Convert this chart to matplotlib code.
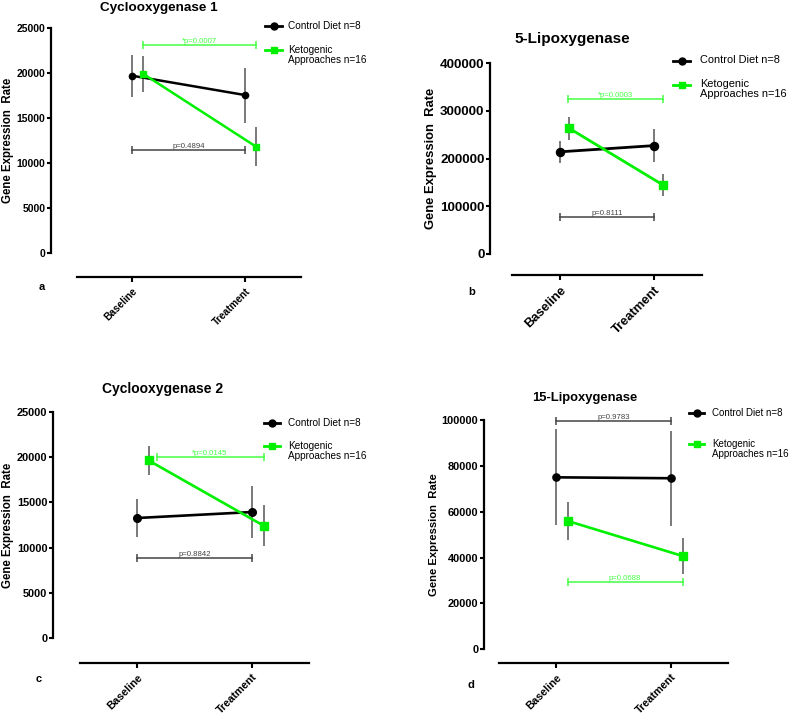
import numpy as np
import matplotlib
matplotlib.use('Agg')
import matplotlib.pyplot as plt
from matplotlib.lines import Line2D

plt.rcParams['font.family'] = ['Liberation Sans', 'DejaVu Sans']

W, H = 789, 719

categories = ['Baseline', 'Treatment']
titles = ['Cyclooxygenase 1', '5-Lipoxygenase', 'Cyclooxygenase 2', '15-Lipoxygenase']
panel_letters = ['a', 'b', 'c', 'd']
control_label = 'Control Diet n=8'
keto_label = 'Ketogenic\nApproaches n=16'

# means and error (symmetric) for each panel
control_mean = [[19700, 17550], [214000, 227000], [13270, 13930], [75000, 74600]]
control_err = [[2350, 3050], [23000, 35000], [2060, 2850], [21000, 20700]]
keto_mean = [[19900, 11800], [263000, 144000], [19630, 12430], [56000, 40700]]
keto_err = [[2000, 2150], [24000, 22500], [1580, 2300], [8450, 7800]]

# p-value brackets: (text, y, x start, x end)
control_p = [('p=0.4894', 11400, 0.0, 1.0), ('p=0.8111', 78000, 0.0, 1.0),
             ('p=0.8842', 8860, 0.0, 1.0), ('p=0.9783', 99700, 0.0, 1.0)]
keto_p = [('*p=0.0007', 23080, 0.1, 1.1), ('*p=0.0003', 324000, 0.09, 1.1),
          ('*p=0.0145', 20000, 0.17, 1.1), ('p=0.0688', 29500, 0.1, 1.1)]

y_max = [25000, 400000, 25000, 100000]
y_step = [5000, 100000, 5000, 20000]

# layout in pixels: y-axis x, x-line left, x-line right, baseline x, treatment x,
# top tick y, zero y, x-line y
layout = [(51, 77, 301, 132, 245, 28, 253, 277),
          (490, 512, 702, 560, 654, 63, 254, 275),
          (53, 80, 309, 137, 252, 411.7, 638.3, 663),
          (484, 499, 728, 556, 671, 420, 649.3, 663)]
title_pos = [(159, 8, 9.7), (572, 39, 11), (162, 389, 10), (585, 398, 9.4)]
letter_pos = [(42, 287), (472, 292), (39, 679), (471, 685)]
# key: line start x, first row y, row step, line length, text offset, font size
key_pos = [(265, 26, 24, 17, 23, 7.2), (673, 61, 24, 17, 27, 7.9),
           (264, 423, 23, 16, 24, 7.2), (689, 413, 31, 15, 23, 7.0)]
tick_fs = [7.5, 9.7, 7.9, 7.9]
lab_fs = [8.3, 9.4, 8.3, 8.1]
xt_fs = [7.3, 9.3, 7.8, 7.8]
ms = [4.5, 5.8, 5.5, 5.2]
lw = [1.8, 2.0, 1.9, 1.9]

GREEN = '#00f000'
PGREEN = '#44ff44'
ERRC = '#555555'
offset = 0.1

fig = plt.figure(figsize=(W / 100, H / 100), dpi=100)


def fx(px):
    return px / W


def fy(py):
    return 1 - py / H


for i in range(4):
    yx, xl, xr, bx, tx, ytop, y0, xly = layout[i]
    unit = tx - bx
    ax = fig.add_axes([fx(yx), fy(xly), (xr - yx) / W, (xly - ytop) / H])
    per_px = y_max[i] / (y0 - ytop)
    ax.set_xlim((yx - bx) / unit, (xr - bx) / unit)
    ax.set_ylim(-(xly - y0) * per_px, y_max[i])

    x = np.arange(len(categories))
    ax.errorbar(x, control_mean[i], yerr=control_err[i], fmt='none', ecolor=ERRC,
                elinewidth=1.1, capsize=0, zorder=2)
    ax.errorbar(x + offset, keto_mean[i], yerr=keto_err[i], fmt='none', ecolor=ERRC,
                elinewidth=1.1, capsize=0, zorder=2)
    ax.plot(x, control_mean[i], color='black', lw=lw[i], marker='o', ms=ms[i], zorder=3)
    ax.plot(x + offset, keto_mean[i], color=GREEN, lw=lw[i], marker='s', ms=ms[i], zorder=4)

    for (txt, yv, x0, x1), col in [(control_p[i], '#444444'), (keto_p[i], PGREEN)]:
        ax.plot([x0, x1], [yv, yv], color=col, lw=1.1, marker='|', ms=6, mew=1.1,
                clip_on=False, zorder=2)
        ax.text((x0 + x1) / 2, yv, txt, color=col, fontsize=5.6, ha='center', va='bottom')

    for s in ['top', 'right']:
        ax.spines[s].set_visible(False)
    ax.spines['left'].set_bounds(0, y_max[i])
    ax.spines['bottom'].set_bounds((xl - bx) / unit, (xr - bx) / unit)
    ax.spines['left'].set_linewidth(1.6)
    ax.spines['bottom'].set_linewidth(1.6)

    ax.set_yticks(np.arange(0, y_max[i] + 1, y_step[i]))
    ax.set_yticklabels([str(int(v)) for v in np.arange(0, y_max[i] + 1, y_step[i])],
                       fontweight='bold', fontsize=tick_fs[i])
    ax.set_xticks(x)
    ax.set_xticklabels(categories, rotation=45, ha='right', rotation_mode='anchor',
                       fontweight='bold', fontsize=xt_fs[i])
    ax.tick_params(axis='y', length=3, width=1.5, pad=1)
    ax.tick_params(axis='x', length=3.5, width=1.5, pad=3)
    ax.set_ylabel('Gene Expression  Rate', fontweight='bold', fontsize=lab_fs[i], labelpad=2)
    # centre the label on the drawn part of the y axis
    ax.yaxis.label.set_y((xly - (y0 + ytop) / 2) / (xly - ytop))

    tx_, ty_, tfs = title_pos[i]
    fig.text(fx(tx_), fy(ty_), titles[i], fontweight='bold', fontsize=tfs,
             ha='center', va='center')
    lx, ly = letter_pos[i]
    fig.text(fx(lx), fy(ly), panel_letters[i], fontweight='bold', fontsize=8,
             ha='center', va='center')

    kx, ky, kdy, klen, koff, kfs = key_pos[i]
    for j, (col, mk, lab) in enumerate([('black', 'o', control_label), (GREEN, 's', keto_label)]):
        yy = ky + j * kdy
        fig.add_artist(Line2D([fx(kx), fx(kx + klen / 2), fx(kx + klen)], [fy(yy)] * 3,
                              color=col, lw=2, marker=mk, ms=5, markevery=[1],
                              transform=fig.transFigure))
        fig.text(fx(kx + koff), fy(yy - kfs * 0.75), lab, fontsize=kfs, ha='left', va='top',
                 transform=fig.transFigure, linespacing=1.0)

fig.savefig('out.png', dpi=100)
